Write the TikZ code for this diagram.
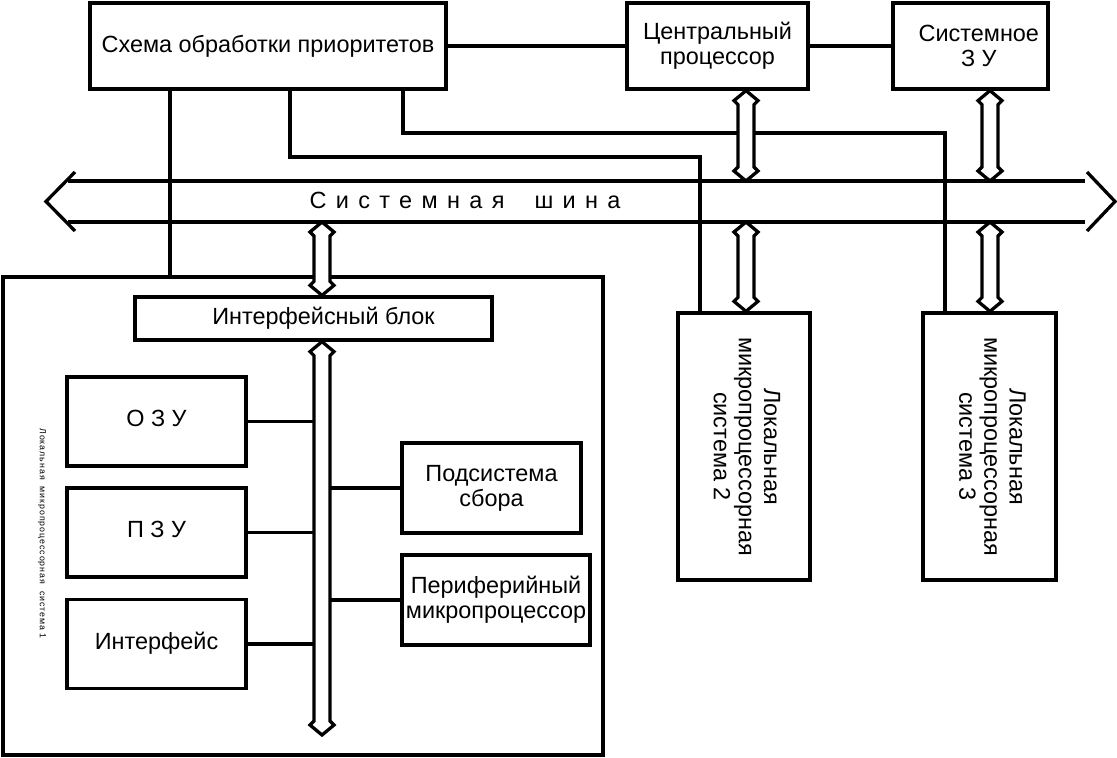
\documentclass[tikz,border=0pt]{standalone}
\usepackage{fontspec}
\setmainfont{Liberation Sans}
\usepackage{graphicx}
\usetikzlibrary{calc}
\tikzset{
    block/.style = {draw, rectangle, line width=2.8pt, inner sep=0pt, align=center},
    link/.style = {draw, line width=2.8pt},
    hollow/.style = {draw, line width=2.8pt, fill=white}
}
% hollow double-headed arrow, top tip #1, bottom tip #2
\newcommand{\dblarrow}[2]{%
  \draw[hollow] (#1) -- ++(-12,10) -- ++(4,4) -- ($(#2)+(-8,-14)$) -- ++(-4,4) -- (#2)
    -- ++(12,-10) -- ++(-4,-4) -- ($(#1)+(8,14)$) -- ++(4,-4) -- cycle;}
\newcommand{\vtext}[1]{\rotatebox{-90}{\begin{tabular}{c}#1\end{tabular}}}

\begin{document}
\begin{tikzpicture}[x=0.03cm,y=-0.03cm,font=\fontsize{20}{21.5}\selectfont]
    \useasboundingbox (0,0) rectangle (1117,758);
    % top row
    \node[block, minimum width=10.68cm, minimum height=2.58cm] (prio) at (268,46) {Схема обработки приоритетов};
    \node[block, minimum width=5.43cm, minimum height=2.58cm] (cpu) at (717.5,46) {Центральный\\процессор};
    \node[block, minimum width=4.65cm, minimum height=2.58cm] (szu) at (970.5,46) {\hspace*{0.5cm}Системное\\\hspace*{0.5cm}З У};
    \draw[link] (prio.east) -- (cpu.west);
    \draw[link] (cpu.east) -- (szu.west);

    % local systems
    \node[block, minimum width=18cm, minimum height=14.34cm] (lms1) at (303,516) {};
    \node[block, minimum width=3.96cm, minimum height=8.01cm] (lms2) at (744,446.5) {\vtext{Локальная\\микропроцессорная\\система 2}};
    \node[block, minimum width=3.99cm, minimum height=8.01cm] (lms3) at (989.5,446.5) {\vtext{Локальная\\микропроцессорная\\система 3}};
    \node[rotate=-90, font=\fontsize{7.5}{9}\selectfont\addfontfeature{LetterSpace=11}] (lms1lbl) at (42,533.5) {Локальная\ \ микропроцессорная\ \ система 1};

    % system bus
    \coordinate (busL) at (46,201.5);
    \coordinate (busR) at (1115,201.5);
    \draw[link] (68,181) -- (1085,181);
    \draw[link] (68,222) -- (1085,222);
    \draw[link] (75,172) -- (busL) -- (75,231);
    \draw[link] (1087,172) -- (busR) -- (1087,231);
    \node[font=\fontsize{20}{21.5}\selectfont\addfontfeature{LetterSpace=40}] (buslbl) at (465,200) {Системная\hspace{0.9cm}шина};

    % priority lines
    \coordinate (t1) at (170,277);
    \coordinate (k2) at (290,157);
    \coordinate (t2) at (700,313);
    \coordinate (k3) at (403,133);
    \coordinate (t3) at (945,313);
    \draw[link] (prio.south -| t1) -- (t1);
    \draw[link] (prio.south -| k2) -- (k2) -| (t2);
    \draw[link] (prio.south -| k3) -- (k3) -| (t3);

    % inside system 1
    \node[block, minimum width=10.71cm, minimum height=1.29cm] (ifb) at (313.5,318.5) {\hspace*{0.6cm}Интерфейсный блок};
    \node[block, minimum width=5.37cm, minimum height=2.67cm] (ozu) at (156.5,421.5) {\raisebox{0.18cm}{О З У}};
    \node[block, minimum width=5.37cm, minimum height=2.67cm] (pzu) at (156.5,532.5) {\raisebox{0.18cm}{П З У}};
    \node[block, minimum width=5.37cm, minimum height=2.67cm] (ifc) at (156.5,644) {\raisebox{0.18cm}{Интерфейс}};
    \node[block, minimum width=5.37cm, minimum height=2.7cm] (sub) at (491.5,488) {Подсистема\\сбора};
    \node[block, minimum width=5.64cm, minimum height=2.7cm] (per) at (496,600) {Периферийный\\микропроцессор};

    % bus ports
    \coordinate (b1) at (746,181);
    \coordinate (b2) at (990,181);
    \coordinate (b3) at (746,222);
    \coordinate (b4) at (990,222);
    \coordinate (b5) at (322,222);
    \coordinate (ibend) at (322,735);
    \path (cpu.south -| b1) coordinate (c1)
          (szu.south -| b2) coordinate (c2)
          (lms2.north -| b3) coordinate (c3)
          (lms3.north -| b4) coordinate (c4)
          (ifb.north -| b5) coordinate (c5)
          (ifb.south -| b5) coordinate (c6);
    \dblarrow{c1}{b1}
    \dblarrow{c2}{b2}
    \dblarrow{b3}{c3}
    \dblarrow{b4}{c4}
    \dblarrow{b5}{c5}
    \dblarrow{c6}{ibend}

    % internal bus taps
    \coordinate (busl) at (314,0);
    \coordinate (busr) at (330,0);
    \draw[link] (ozu.east) -- (ozu.east -| busl);
    \draw[link] (pzu.east) -- (pzu.east -| busl);
    \draw[link] (ifc.east) -- (ifc.east -| busl);
    \draw[link] (sub.west) -- (sub.west -| busr);
    \draw[link] (per.west) -- (per.west -| busr);
\end{tikzpicture}
\end{document}
